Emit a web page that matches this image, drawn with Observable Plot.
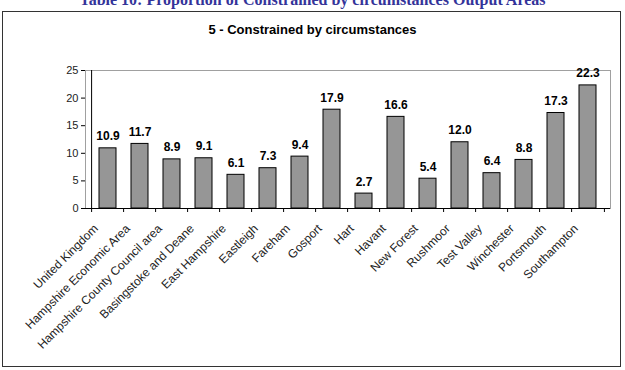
<!DOCTYPE html>
<html>
<head>
<meta charset="utf-8">
<script src="https://cdn.jsdelivr.net/npm/d3@7"></script>
<script src="https://cdn.jsdelivr.net/npm/@observablehq/plot@0.6"></script>
<style>
  body { margin: 0; background: #fff; }
  #wrap { position: relative; width: 625px; height: 370px; overflow: hidden; }
  #table-title {
    position: absolute; left: 0; width: 625px; top: -9px; text-align: center;
    font: bold 16px "Liberation Serif", "Times New Roman", serif; color: #333399; white-space: nowrap;
  }
  #box { position: absolute; left: 2px; top: 11px; width: 617px; height: 354px; border: 1.5px solid #333; }
  #chart-title {
    position: absolute; left: 0; width: 625px; top: 22px; text-align: center;
    font: bold 13px "Liberation Sans", Arial, sans-serif; color: #000;
  }
  #chart { position: absolute; left: 0; top: 0; }
</style>
</head>
<body>
<div id="wrap">
  <div id="table-title">Table 10: Proportion of Constrained by circumstances Output Areas</div>
  <div id="box"></div>
  <div id="chart-title">5 - Constrained by circumstances</div>
  <div id="chart"></div>
</div>
<script>
// Areas and the share (%) of output areas in supergroup 5
const areas = [
  "United Kingdom", "Hampshire Economic Area", "Hampshire County Council area",
  "Basingstoke and Deane", "East Hampshire", "Eastleigh", "Fareham", "Gosport",
  "Hart", "Havant", "New Forest", "Rushmoor", "Test Valley", "Winchester",
  "Portsmouth", "Southampton"
];
const values = [10.9, 11.7, 8.9, 9.1, 6.1, 7.3, 9.4, 17.9, 2.7, 16.6, 5.4, 12.0, 6.4, 8.8, 17.3, 22.3];
const yTicks = [0, 5, 10, 15, 20, 25];

const data = areas.map((area, i) => ({area, value: values[i]}));

const width = 625, height = 370;
const marginLeft = 85, marginRight = 15, marginTop = 70, marginBottom = 162;
// half a category slot, used to put the x ticks between the bars
const halfStep = (width - marginLeft - marginRight) / areas.length / 2;

const chart = Plot.plot({
  width, height, marginLeft, marginRight, marginTop, marginBottom,
  style: {fontFamily: '"Liberation Sans", Arial, sans-serif', fontSize: "11px", color: "#222"},
  x: {domain: areas, paddingInner: 0.48, paddingOuter: 0.24, axis: null, label: null},
  y: {domain: [0, 25], axis: null, label: null},
  marks: [
    Plot.frame({stroke: "#a0a0a0"}),
    Plot.barY(data, {x: "area", y: "value", fill: "#969696", stroke: "#000", strokeWidth: 1}),
    Plot.ruleY([0], {stroke: "#000"}),
    Plot.ruleX([areas[0]], {dx: -halfStep, stroke: "#000"}),
    Plot.axisY({ticks: yTicks, tickSize: 4, tickPadding: 3, stroke: "#000", fontSize: 11, label: null}),
    Plot.axisX({tickSize: 4, dx: -halfStep, tickFormat: () => "", stroke: "#000", label: null}),
    Plot.axisX({ticks: [areas[areas.length - 1]], tickSize: 4, dx: halfStep, tickFormat: () => "", stroke: "#000", label: null}),
    Plot.axisX({tickSize: 0, tickRotate: -45, tickPadding: 18, dx: -12, fontSize: 12, label: null}),
    Plot.text(data, {
      x: "area", y: "value", text: d => d.value.toFixed(1),
      dy: -8, lineAnchor: "bottom", fontWeight: "bold", fontSize: 12, fill: "#000"
    })
  ]
});
document.getElementById("chart").append(chart);
</script>
</body>
</html>
